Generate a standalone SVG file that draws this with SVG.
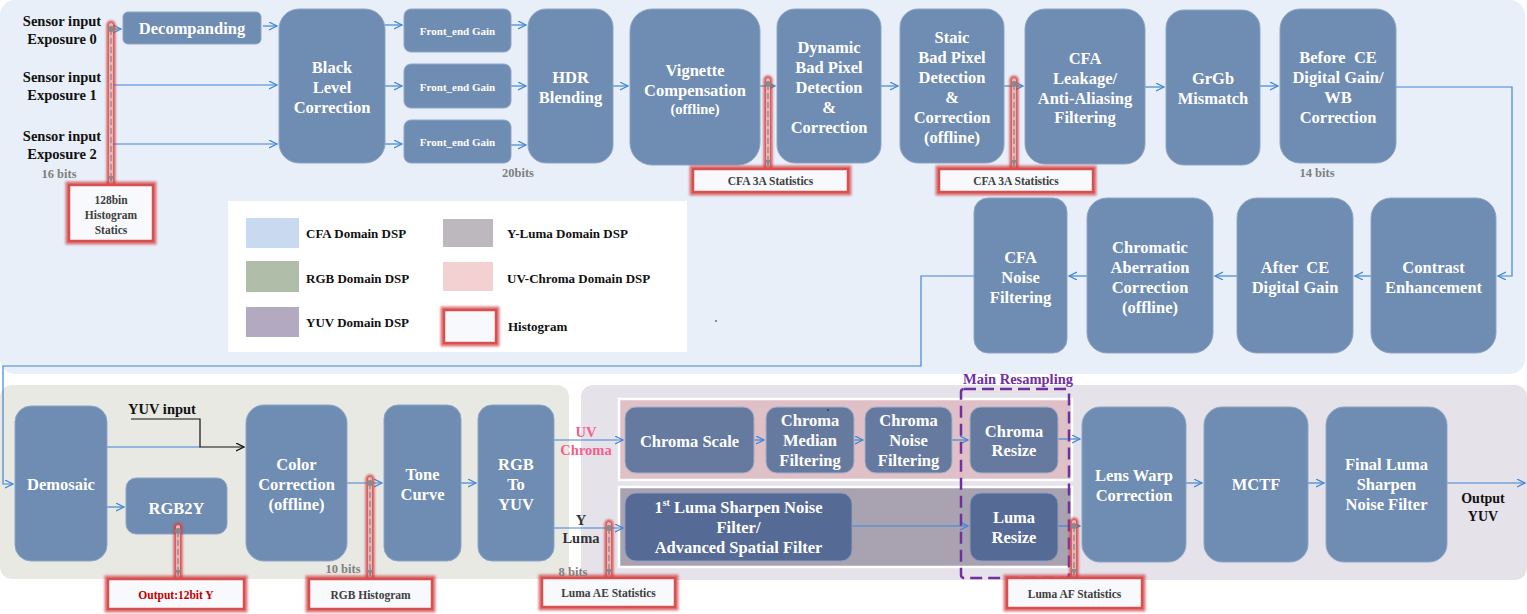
<svg xmlns="http://www.w3.org/2000/svg" width="1527" height="614" viewBox="0 0 1527 614">
<defs>
<style>
.n{fill:#6F8CB2;stroke:#8EA5C5;stroke-width:1}
.nc{fill:#667A9F;stroke:#A3B0CC;stroke-width:1}
.nl{fill:#556B95;stroke:#8E9CC0;stroke-width:1}
.t{font-family:"Liberation Serif","Times New Roman",serif;font-weight:bold;fill:#FFFFFF;font-size:16.5px;text-anchor:middle;dominant-baseline:central;white-space:pre}
.s{font-size:11px}
.o{font-size:14.5px}
.k{font-family:"Liberation Serif","Times New Roman",serif;font-weight:bold;fill:#111;font-size:14.5px;text-anchor:middle;dominant-baseline:central}
.b{font-family:"Liberation Serif","Times New Roman",serif;font-weight:bold;fill:#808080;font-size:12.5px;text-anchor:middle;dominant-baseline:central}
.h{font-family:"Liberation Serif","Times New Roman",serif;font-weight:bold;fill:#404040;font-size:11.5px;text-anchor:middle;dominant-baseline:central}
.lg{font-family:"Liberation Serif","Times New Roman",serif;font-weight:bold;fill:#111;font-size:13px;dominant-baseline:central}
.c{fill:none;stroke:#3F86D6;stroke-width:1.2;marker-end:url(#a)}
.cn{fill:none;stroke:#3F86D6;stroke-width:1.2}
.ck{fill:none;stroke:#111;stroke-width:1.2;marker-end:url(#ak)}
.rg{fill:none;stroke:#D43F42;stroke-width:9;stroke-linecap:round;opacity:.85;filter:url(#g2)}
.ri{fill:none;stroke:#EBB5B6;stroke-width:4;stroke-linecap:round}
.dl{fill:none;stroke:#8A8A8A;stroke-width:1.3;stroke-dasharray:6 3;marker-end:url(#ag)}
.bg{fill:none;stroke:#D43F42;stroke-width:7;opacity:.7;filter:url(#g)}
.bx{fill:#F7F9FC;stroke:#D65050;stroke-width:2.5}
</style>
<filter id="g" x="-50%" y="-50%" width="200%" height="200%"><feGaussianBlur stdDeviation="1.3"/></filter>
<filter id="g2" filterUnits="userSpaceOnUse" x="0" y="0" width="1527" height="614"><feGaussianBlur stdDeviation="1.3"/></filter>
<marker id="a" markerUnits="userSpaceOnUse" markerWidth="10" markerHeight="10" refX="8" refY="4" orient="auto"><path d="M0,0 L8,4 L0,8" fill="none" stroke="#3F86D6" stroke-width="1.2"/></marker>
<marker id="ak" markerUnits="userSpaceOnUse" markerWidth="10" markerHeight="10" refX="8" refY="4" orient="auto"><path d="M0,0 L8,4 L0,8" fill="none" stroke="#111" stroke-width="1.3"/></marker>
<marker id="ag" markerUnits="userSpaceOnUse" markerWidth="8" markerHeight="8" refX="6" refY="3" orient="auto"><path d="M0,0 L6,3 L0,6 Z" fill="#8A8A8A"/></marker>
</defs>

<!-- panels -->
<g id="panels">
<rect x="0" y="0" width="1525" height="374" rx="15" fill="#E8EFF8"/>
<rect x="0" y="385" width="569" height="194" rx="12" fill="#E8E9E3"/>
<rect x="581" y="385" width="946" height="195" rx="12" fill="#E5E2E9"/>
<rect x="619" y="399" width="453" height="81" fill="#DFC0C7" stroke="#FFFFFF" stroke-width="2.5"/>
<rect x="619" y="487" width="453" height="80" fill="#A9A2B0" stroke="#FFFFFF" stroke-width="2.5"/>
</g>

<!-- legend -->
<g id="legend">
<rect x="228" y="201" width="459" height="151" fill="#FFFFFF"/>
<rect x="246" y="218" width="53" height="30" fill="#C9DAF0"/>
<rect x="246" y="261" width="53" height="31" fill="#B0BDA8"/>
<rect x="246" y="307" width="53" height="30" fill="#B3A9C0"/>
<rect x="443" y="219" width="50" height="28" fill="#BDB8BE"/>
<rect x="443" y="262" width="50" height="29" fill="#F3D0D2"/>
<rect class="bg" x="444" y="310" width="52" height="33"/>
<rect class="bx" x="444" y="310" width="52" height="33"/>
<text class="lg" x="306" y="233">CFA Domain DSP</text>
<text class="lg" x="306" y="278">RGB Domain DSP</text>
<text class="lg" x="306" y="322">YUV Domain DSP</text>
<text class="lg" x="507" y="233">Y-Luma Domain DSP</text>
<text class="lg" x="507" y="278">UV-Chroma Domain DSP</text>
<text class="lg" x="508" y="326">Histogram</text>
<circle cx="716" cy="321" r="0.8" fill="#111"/>
</g>

<!-- connectors -->
<g id="connectors">
<path class="c" d="M112,29 H121"/>
<path class="c" d="M263,26 H277"/>
<path class="c" d="M110,85 H277"/>
<path class="c" d="M110,144 H277"/>
<path class="c" d="M385,25 H402"/>
<path class="c" d="M385,86 H402"/>
<path class="c" d="M385,144 H402"/>
<path class="c" d="M511,25 H526"/>
<path class="c" d="M511,86 H526"/>
<path class="c" d="M511,145 H526"/>
<path class="c" d="M613,86 H628"/>
<path class="c" d="M760,86 H775"/>
<path class="c" d="M881,86 H898"/>
<path class="c" d="M1004,86 H1023"/>
<path class="c" d="M1145,87 H1164"/>
<path class="c" d="M1260,86 H1278"/>
<path class="c" d="M1396,87 H1512 V276 H1498"/>
<path class="c" d="M1371,276 H1355"/>
<path class="c" d="M1237,276 H1215"/>
<path class="c" d="M1087,276 H1069"/>
<path class="c" d="M974,276 H921 V366 H3 V484 H13"/>
<path class="cn" d="M107,447 H200"/>
<path class="ck" d="M131,419 H200 V447 H244"/>
<path class="c" d="M107,507 H124"/>
<path class="c" d="M347,483 H382"/>
<path class="c" d="M461,483 H476"/>
<path class="c" d="M554,440 H623"/>
<path class="c" d="M554,528 H623"/>
<path class="c" d="M754,440 H764"/>
<path class="c" d="M854,440 H863"/>
<path class="c" d="M952,440 H968"/>
<path class="c" d="M1058,439 H1080"/>
<path class="c" d="M852,526 H968"/>
<path class="c" d="M1058,526 H1080"/>
<path class="c" d="M1186,483 H1202"/>
<path class="c" d="M1308,483 H1324"/>
<path class="c" d="M1447,483 H1525"/>
</g>

<!-- nodes -->
<g id="decompanding"><rect class="n" x="123" y="12" width="138" height="32" rx="5"/><text class="t" x="192" y="28.5">Decompanding</text></g>
<g id="black-level"><rect class="n" x="279" y="9" width="106" height="154" rx="20"/><text class="t" x="332" y="67">Black</text><text class="t" x="332" y="87">Level</text><text class="t" x="332" y="107">Correction</text></g>
<g id="feg0"><rect class="n" x="404" y="9" width="107" height="43" rx="7"/><text class="t s" x="457.5" y="31">Front_end Gain</text></g>
<g id="feg1"><rect class="n" x="404" y="64" width="107" height="44" rx="7"/><text class="t s" x="457.5" y="86.5">Front_end Gain</text></g>
<g id="feg2"><rect class="n" x="404" y="120" width="107" height="43" rx="7"/><text class="t s" x="457.5" y="142">Front_end Gain</text></g>
<g id="hdr"><rect class="n" x="528" y="9" width="85" height="154" rx="18"/><text class="t" x="570.5" y="77">HDR</text><text class="t" x="570.5" y="97">Blending</text></g>
<g id="vignette"><rect class="n" x="630" y="9" width="130" height="156" rx="22"/><text class="t" x="695" y="70">Vignette</text><text class="t" x="695" y="90">Compensation</text><text class="t o" x="695" y="109">(offline)</text></g>
<g id="dbp"><rect class="n" x="777" y="9" width="104" height="154" rx="18"/><text class="t" x="829" y="47">Dynamic</text><text class="t" x="829" y="67">Bad Pixel</text><text class="t" x="829" y="87">Detection</text><text class="t" x="829" y="107">&amp;</text><text class="t" x="829" y="127">Correction</text></g>
<g id="sbp"><rect class="n" x="900" y="9" width="104" height="154" rx="18"/><text class="t" x="952" y="37">Staic</text><text class="t" x="952" y="57">Bad Pixel</text><text class="t" x="952" y="77">Detection</text><text class="t" x="952" y="97">&amp;</text><text class="t" x="952" y="117">Correction</text><text class="t" x="952" y="137">(offline)</text></g>
<g id="cfa-leak"><rect class="n" x="1025" y="9" width="120" height="155" rx="20"/><text class="t" x="1085" y="58">CFA</text><text class="t" x="1085" y="78">Leakage/</text><text class="t" x="1085" y="98">Anti-Aliasing</text><text class="t" x="1085" y="117">Filtering</text></g>
<g id="grgb"><rect class="n" x="1166" y="10" width="94" height="155" rx="18"/><text class="t" x="1213" y="78">GrGb</text><text class="t" x="1213" y="98">Mismatch</text></g>
<g id="before-ce"><rect class="n" x="1280" y="9" width="116" height="154" rx="20"/><text class="t" x="1338" y="57">Before  CE</text><text class="t" x="1338" y="77">Digital Gain/</text><text class="t" x="1338" y="97">WB</text><text class="t" x="1338" y="117">Correction</text></g>
<g id="cfa-noise"><rect class="n" x="974" y="198" width="93" height="155" rx="14"/><text class="t" x="1020.5" y="257">CFA</text><text class="t" x="1020.5" y="277">Noise</text><text class="t" x="1020.5" y="297">Filtering</text></g>
<g id="chromatic"><rect class="n" x="1087" y="198" width="126" height="155" rx="20"/><text class="t" x="1150" y="247">Chromatic</text><text class="t" x="1150" y="267">Aberration</text><text class="t" x="1150" y="287">Correction</text><text class="t" x="1150" y="307">(offline)</text></g>
<g id="after-ce"><rect class="n" x="1237" y="198" width="116" height="155" rx="20"/><text class="t" x="1295" y="267">After  CE</text><text class="t" x="1295" y="287">Digital Gain</text></g>
<g id="contrast"><rect class="n" x="1371" y="198" width="125" height="155" rx="20"/><text class="t" x="1433.5" y="267">Contrast</text><text class="t" x="1433.5" y="287">Enhancement</text></g>
<g id="demosaic"><rect class="n" x="15" y="406" width="92" height="155" rx="16"/><text class="t" x="61" y="484">Demosaic</text></g>
<g id="rgb2y"><rect class="n" x="126" y="478" width="101" height="56" rx="10"/><text class="t" x="176.5" y="508">RGB2Y</text></g>
<g id="color-corr"><rect class="n" x="246" y="405" width="101" height="156" rx="18"/><text class="t" x="296.5" y="464">Color</text><text class="t" x="296.5" y="484">Correction</text><text class="t" x="296.5" y="504">(offline)</text></g>
<g id="tone"><rect class="n" x="384" y="405" width="77" height="156" rx="14"/><text class="t" x="422.5" y="474">Tone</text><text class="t" x="422.5" y="494">Curve</text></g>
<g id="rgb2yuv"><rect class="n" x="478" y="405" width="76" height="156" rx="14"/><text class="t" x="516" y="464">RGB</text><text class="t" x="516" y="484">To</text><text class="t" x="516" y="504">YUV</text></g>
<g id="chroma-scale"><rect class="nc" x="625" y="407" width="129" height="66" rx="11"/><text class="t" x="689.5" y="441">Chroma Scale</text></g>
<g id="chroma-median"><rect class="nc" x="766" y="407" width="88" height="66" rx="11"/><text class="t" x="810" y="420">Chroma</text><text class="t" x="810" y="440">Median</text><text class="t" x="810" y="460">Filtering</text><circle cx="828" cy="410" r="0.8" fill="#111"/></g>
<g id="chroma-noise"><rect class="nc" x="865" y="407" width="87" height="66" rx="11"/><text class="t" x="908.5" y="420">Chroma</text><text class="t" x="908.5" y="440">Noise</text><text class="t" x="908.5" y="460">Filtering</text></g>
<g id="chroma-resize"><rect class="nc" x="970" y="407" width="88" height="66" rx="11"/><text class="t" x="1014" y="431">Chroma</text><text class="t" x="1014" y="450">Resize</text></g>
<g id="luma-sharpen"><rect class="nl" x="625" y="493" width="227" height="68" rx="11"/><text class="t" x="738.5" y="507">1<tspan font-size="10" dy="-5">st</tspan><tspan dy="5"> Luma Sharpen Noise</tspan></text><text class="t" x="738.5" y="527">Filter/</text><text class="t" x="738.5" y="547">Advanced Spatial Filter</text></g>
<g id="luma-resize"><rect class="nl" x="970" y="493" width="88" height="68" rx="11"/><text class="t" x="1014" y="517">Luma</text><text class="t" x="1014" y="537">Resize</text></g>
<g id="lens-warp"><rect class="n" x="1082" y="407" width="104" height="155" rx="18"/><text class="t" x="1134" y="475">Lens Warp</text><text class="t" x="1134" y="495">Correction</text></g>
<g id="mctf"><rect class="n" x="1204" y="407" width="104" height="155" rx="18"/><text class="t" x="1256" y="484">MCTF</text></g>
<g id="final-luma"><rect class="n" x="1326" y="407" width="121" height="155" rx="18"/><text class="t" x="1386.5" y="464">Final Luma</text><text class="t" x="1386.5" y="484">Sharpen</text><text class="t" x="1386.5" y="504">Noise Filter</text></g>

<!-- main resampling -->
<g id="main-resampling">
<rect x="961" y="389" width="108" height="189" rx="3" fill="none" stroke="#7030A0" stroke-width="2.5" stroke-dasharray="12 6"/>
<text class="k" x="1018" y="379" style="fill:#7030A0">Main Resampling</text>
</g>

<!-- statistics taps -->
<g id="stat-hist">
<path class="rg" d="M111,25 V183"/><path class="ri" d="M111,25 V183"/>
<circle cx="111" cy="29" r="3" fill="#8A8A8A"/><path class="dl" d="M111,29 V182"/>
<rect class="bg" x="69" y="185" width="84" height="56"/><rect class="bx" x="69" y="185" width="84" height="56"/>
<text class="h" x="111" y="200">128bin</text><text class="h" x="111" y="215">Histogram</text><text class="h" x="111" y="230">Statics</text>
</g>
<g id="stat-cfa1">
<path class="rg" d="M768,80 V167"/><path class="ri" d="M768,80 V167"/>
<circle cx="768" cy="84" r="3" fill="#8A8A8A"/><path class="dl" d="M768,84 V166"/>
<rect class="bg" x="693" y="169" width="155" height="23"/><rect class="bx" x="693" y="169" width="155" height="23"/>
<text class="h" x="770.5" y="181">CFA 3A Statistics</text>
</g>
<g id="stat-cfa2">
<path class="rg" d="M1014,80 V167"/><path class="ri" d="M1014,80 V167"/>
<circle cx="1014" cy="84" r="3" fill="#8A8A8A"/><path class="dl" d="M1014,84 V166"/>
<rect class="bg" x="939" y="169" width="154" height="23"/><rect class="bx" x="939" y="169" width="154" height="23"/>
<text class="h" x="1016" y="181">CFA 3A Statistics</text>
</g>
<g id="stat-y12">
<path class="rg" d="M178,527 V577"/><path class="ri" d="M178,527 V577"/>
<circle cx="178" cy="531" r="3" fill="#8A8A8A"/><path class="dl" d="M178,531 V576"/>
<rect class="bg" x="108" y="579" width="136" height="30"/><rect class="bx" x="108" y="579" width="136" height="30"/>
<text class="h" x="176" y="595" style="fill:#C00000">Output:12bit Y</text>
</g>
<g id="stat-rgbhist">
<path class="rg" d="M370,479 V577"/><path class="ri" d="M370,479 V577"/>
<circle cx="370" cy="483" r="3" fill="#8A8A8A"/><path class="dl" d="M370,483 V576"/>
<rect class="bg" x="309" y="579" width="123" height="30"/><rect class="bx" x="309" y="579" width="123" height="30"/>
<text class="h" x="370.5" y="595">RGB Histogram</text>
</g>
<g id="stat-ae">
<path class="rg" d="M609,524 V576"/><path class="ri" d="M609,524 V576"/>
<circle cx="609" cy="528" r="3" fill="#8A8A8A"/><path class="dl" d="M609,528 V575"/>
<rect class="bg" x="542" y="578" width="133" height="29"/><rect class="bx" x="542" y="578" width="133" height="29"/>
<text class="h" x="608.5" y="593">Luma AE Statistics</text>
</g>
<g id="stat-af">
<path class="rg" d="M1074,522 V576"/><path class="ri" d="M1074,522 V576"/>
<circle cx="1074" cy="526" r="3" fill="#8A8A8A"/><path class="dl" d="M1074,526 V575"/>
<rect class="bg" x="1007" y="578" width="135" height="30"/><rect class="bx" x="1007" y="578" width="135" height="30"/>
<text class="h" x="1074.5" y="594">Luma AF Statistics</text>
</g>

<!-- labels -->
<g id="labels">
<text class="k" x="62" y="21">Sensor input</text><text class="k" x="62" y="39">Exposure 0</text>
<text class="k" x="62" y="77">Sensor input</text><text class="k" x="62" y="95">Exposure 1</text>
<text class="k" x="62" y="136">Sensor input</text><text class="k" x="62" y="154">Exposure 2</text>
<text class="b" x="59" y="174">16 bits</text>
<text class="b" x="518" y="173">20bits</text>
<text class="b" x="1317" y="173">14 bits</text>
<text class="b" x="343" y="569">10 bits</text>
<text class="b" x="573" y="572">8 bits</text>
<text class="k" x="162" y="409">YUV input</text>
<text class="k" x="586" y="432" style="fill:#F2608E">UV</text><text class="k" x="586" y="450" style="fill:#F2608E">Chroma</text>
<text class="k" x="581" y="520" style="fill:#333">Y</text><text class="k" x="581" y="538" style="fill:#333">Luma</text>
<text class="k" x="1483" y="498" style="font-size:14px">Output</text><text class="k" x="1483" y="516" style="font-size:14px">YUV</text>
</g>
</svg>
